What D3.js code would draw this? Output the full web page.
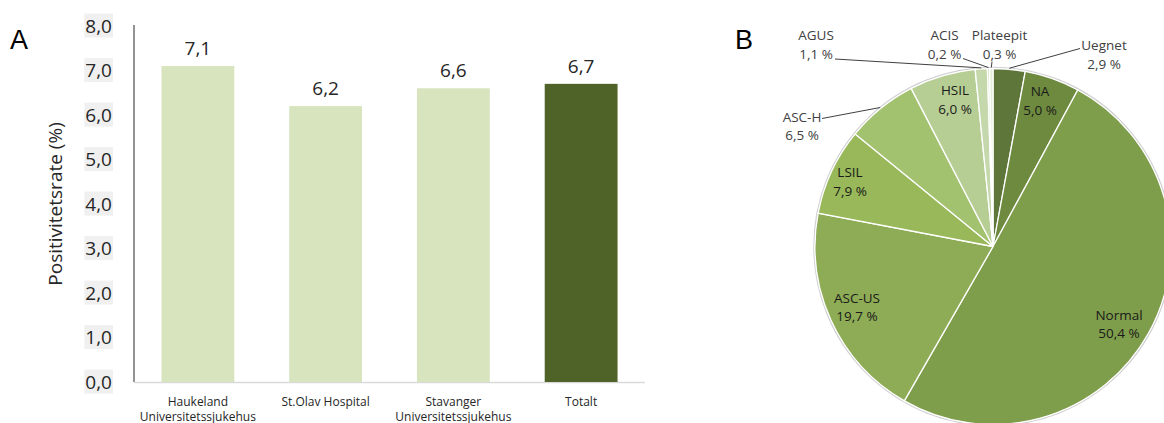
<!DOCTYPE html>
<html><head><meta charset="utf-8">
<script src="https://cdn.jsdelivr.net/npm/d3@7"></script>
<style>
body{margin:0;background:#fff;}
svg{display:block;}
text{font-family:"Open Sans","Noto Sans",sans-serif;}
</style></head>
<body>
<svg id="c" width="1164" height="423"></svg>
<script>
// ---- Bar chart data (panel A)
const barCategories = [["Haukeland","Universitetssjukehus"],["St.Olav Hospital"],["Stavanger","Universitetssjukehus"],["Totalt"]];
const barValues = [7.1, 6.2, 6.6, 6.7];
const barLabels = ["7,1","6,2","6,6","6,7"];
const yTicks = [0,1,2,3,4,5,6,7,8];
const yTickLabels = ["0,0","1,0","2,0","3,0","4,0","5,0","6,0","7,0","8,0"];
const yTitle = "Positivitetsrate (%)";

// ---- Pie chart data (panel B)
const pieCategories = ["Uegnet","NA","Normal","ASC-US","LSIL","ASC-H","HSIL","AGUS","ACIS","Plateepit"];
const pieValues = [2.9, 5.0, 50.4, 19.7, 7.9, 6.5, 6.0, 1.1, 0.2, 0.3];
const pieLabels = ["2,9 %","5,0 %","50,4 %","19,7 %","7,9 %","6,5 %","6,0 %","1,1 %","0,2 %","0,3 %"];

const svg = d3.select("#c");

// ================= Panel A =================
const x = d3.scaleBand().domain(d3.range(barValues.length)).range([134, 645]).paddingInner(0.43).paddingOuter(0.215);
const y = d3.scaleLinear().domain([0, 8]).range([382, 26]);

svg.append("text").attr("x", 10).attr("y", 49).attr("font-size", 27)
  .style("font-family", "'Liberation Sans',Arial,sans-serif").attr("fill", "#000").text("A");

// tick labels with light grey background
const yAxis = svg.append("g").attr("transform", "translate(112,0)")
  .call(d3.axisLeft(y).tickValues(yTicks).tickFormat((d,i)=>yTickLabels[i]).tickSize(0).tickPadding(0));
yAxis.select(".domain").remove();
yAxis.selectAll("text").attr("font-size", 19).attr("fill", "#262626")
  .style("font-family", "'Open Sans',sans-serif");
yAxis.selectAll(".tick").each(function(){
  const t = d3.select(this).select("text");
  const bb = t.node().getBBox();
  d3.select(this).insert("rect","text").attr("x", bb.x-1).attr("y", bb.y+1).attr("width", bb.width+2).attr("height", bb.height-2).attr("fill", "#f0f0f0");
});

// axes lines
svg.append("line").attr("x1", 134).attr("x2", 134).attr("y1", y(8)-1).attr("y2", y(0)).attr("stroke", "#595959").attr("stroke-width", 1.3);
svg.append("line").attr("x1", 134).attr("x2", 645).attr("y1", y(0)+0.5).attr("y2", y(0)+0.5).attr("stroke", "#d9d9d9").attr("stroke-width", 1.3);

svg.append("text").attr("transform", "translate(62,204) rotate(-90)").attr("text-anchor", "middle")
  .attr("font-size", 19).attr("fill", "#262626").text(yTitle);

svg.selectAll(".bar").data(barValues).join("rect").attr("class", "bar")
  .attr("x", (d,i)=>x(i)).attr("width", x.bandwidth())
  .attr("y", d=>y(d)).attr("height", d=>y(0)-y(d))
  .attr("fill", (d,i)=> i===barValues.length-1 ? "#4f6228" : "#d7e4bd");

svg.selectAll(".vl").data(barValues).join("text").attr("class", "vl")
  .attr("x", (d,i)=>x(i)+x.bandwidth()/2).attr("y", d=>y(d)-11)
  .attr("text-anchor", "middle").attr("font-size", 19).attr("fill", "#262626")
  .text((d,i)=>barLabels[i]);

svg.selectAll(".cl").data(barCategories).join("text").attr("class", "cl")
  .attr("x", (d,i)=>x(i)+x.bandwidth()/2).attr("y", 405.5)
  .attr("text-anchor", "middle").attr("font-size", 12).attr("fill", "#262626")
  .each(function(d){
    d3.select(this).selectAll("tspan").data(d).join("tspan")
      .attr("x", d3.select(this).attr("x")).attr("dy", (s,j)=> j===0 ? 0 : 15).text(s=>s);
  });

// ================= Panel B =================
svg.append("text").attr("x", 735).attr("y", 49).attr("font-size", 27)
  .style("font-family", "'Liberation Sans',Arial,sans-serif").attr("fill", "#000").text("B");

const cx = 993, cy = 246.5, R = 178;
const pieColors = ["#5f763a","#6d8a3e","#7f9e4b","#8dac55","#98b859","#a3c26f","#b6ce94","#c5d8ab","#d7e4c6","#e4edda"];
const pie = d3.pie().sort(null).value(d=>d)(pieValues);
const arc = d3.arc().innerRadius(0).outerRadius(R);
const gp = svg.append("g").attr("transform", `translate(${cx},${cy})`);
gp.append("circle").attr("r", R+1).attr("fill", "none").attr("stroke", "#d0d0d0").attr("stroke-width", 1.5);
gp.selectAll("path").data(pie).join("path").attr("d", arc)
  .attr("fill", (d,i)=>pieColors[i]).attr("stroke", "#fff").attr("stroke-width", 1.3);

// label placements (offsets relative to pie centre, baseline of first line)
const labelPos = {
  "Uegnet":   {x:111, y:-196.5, out:true, lx:87, ly:-198},
  "NA":       {x:47,  y:-150.5},
  "Normal":   {x:126, y:73},
  "ASC-US":   {x:-136,y:56},
  "LSIL":     {x:-143,y:-69.5},
  "ASC-H":    {x:-191,y:-125, out:true, lx:-171, ly:-128},
  "HSIL":     {x:-38, y:-151.5},
  "AGUS":     {x:-177,y:-206.5, out:true, lx:-158, ly:-187.5},
  "ACIS":     {x:-48.5,y:-206.5, out:true, lx:-30, ly:-188},
  "Plateepit":{x:6.5, y:-206.5, out:true, lx:-1, ly:-185}
};
const gl = gp.append("g");
pie.forEach((d,i)=>{
  const name = pieCategories[i], p = labelPos[name];
  if (p.out) {
    const a = (d.startAngle + d.endAngle)/2;
    const ex = Math.sin(a)*(R+1), ey = -Math.cos(a)*(R+1);
    gl.append("line").attr("x1", p.lx).attr("y1", p.ly).attr("x2", ex).attr("y2", ey)
      .attr("stroke", "#404040").attr("stroke-width", 1);
  }
  const t = gl.append("text").attr("text-anchor", "middle").attr("font-size", 13.5).attr("fill", p.out ? "#404040" : "#1a1a1a");
  t.append("tspan").attr("x", p.x).attr("y", p.y).text(name);
  t.append("tspan").attr("x", p.x).attr("y", p.y+18.5).text(pieLabels[i]);
});
</script>
</body></html>
